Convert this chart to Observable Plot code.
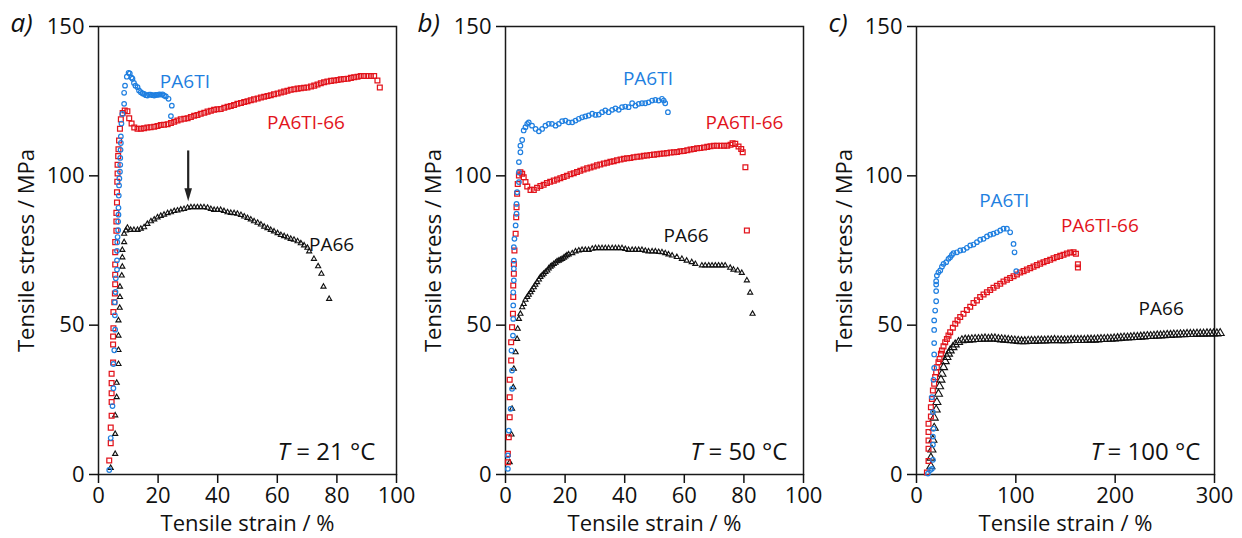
<!DOCTYPE html>
<html><head><meta charset="utf-8">
<script src="https://cdn.jsdelivr.net/npm/d3@7"></script>
<script src="https://cdn.jsdelivr.net/npm/@observablehq/plot@0.6"></script>
<style>
body{margin:0;background:#fff;}
#wrap{position:relative;width:1242px;height:538px;overflow:hidden;background:#fff;}
#wrap svg{position:absolute;top:0;}
</style></head><body><div id="wrap"></div>
<script>
// ---- data: [strain %, stress MPa] ----
const aPA6TI = [[3.6,1.5],[4.1,12.2],[4.7,22.9],[5.0,28.9],[5.0,37],[5.3,41.6],[5.6,48.5],[5.5,53.3],[5.5,57.7],[5.7,61.1],[5.8,65.7],[6.2,68.6],[6.2,71.7],[6.2,74.9],[6.3,77.8],[6.4,79.5],[6.6,81.8],[6.6,84.7],[6.7,87],[6.7,89.3],[6.8,93.4],[6.9,96.8],[7.0,99.1],[7.2,101.4],[7.3,103.7],[7.3,106],[7.4,108.7],[7.5,111],[7.5,113.2],[7.7,117.5],[8.0,120.7],[8.6,124.1],[8.6,127.8],[8.9,130.2],[9.5,133.2],[10.1,134.5],[10.5,134.3],[11.1,132.9],[11.4,132.5],[11.9,131.1],[12.4,130.2],[13.1,129.7],[13.6,128.6],[14.2,128],[14.8,127.6],[15.3,127.4],[15.9,127.0],[16.4,126.9],[17.0,127.2],[17.5,127.2],[18.1,127.0],[18.7,126.9],[19.2,127.1],[19.8,127.1],[20.4,127.3],[20.9,127.2],[21.5,127.3],[22.0,126.9],[22.6,126.6],[23.5,125.8],[24.6,123.5],[24.3,120]];
const aPA6TI66 = [[3.6,4.7],[4.1,10.5],[4.1,15.7],[4.4,19.7],[4.4,24.3],[4.4,27.2],[4.4,30.6],[4.4,33.7],[4.9,37.5],[4.9,43.5],[4.9,46.2],[5.0,49],[5.0,54.4],[5.3,57.7],[5.5,60.6],[5.6,63.7],[5.6,66.9],[5.6,70.3],[5.6,74.4],[5.6,77.8],[6.0,81.6],[6.0,84.7],[6.0,87.6],[6.2,91.1],[6.2,94.5],[6.3,98],[6.4,100.8],[6.4,103.7],[6.6,106.6],[6.7,108.9],[6.9,111.8],[7.2,115.8],[7.5,118.9],[8.1,121],[8.8,121.9],[9.7,121.6],[10.3,119.3],[11.1,117.5],[12.0,116.2],[13.1,115.8],[14.2,115.8],[15.3,115.9],[16.4,116.2],[17.5,116.3],[18.7,116.4],[19.8,116.7],[20.9,117],[22.0,117.1],[23.2,117.3],[24.3,117.7],[25.4,118.1],[26.5,118.5],[27.6,118.9],[28.8,119.1],[29.9,119.3],[31.0,119.7],[32.1,120.1],[33.2,120.4],[34.3,120.8],[35.5,121.1],[36.6,121.5],[37.7,121.8],[38.8,122.1],[39.9,122.3],[41.0,122.4],[42.2,122.8],[43.3,123.1],[44.4,123.4],[45.5,123.7],[46.6,124.1],[47.8,124.4],[48.9,124.7],[50.0,125],[51.1,125.3],[52.2,125.6],[53.4,125.9],[54.5,126.2],[55.6,126.5],[56.7,126.7],[57.8,127],[58.9,127.3],[60.1,127.6],[61.2,127.9],[62.3,128.2],[63.4,128.5],[64.5,128.8],[65.7,129],[66.8,129.2],[67.9,129.3],[69.0,129.5],[70.1,129.6],[71.3,129.9],[72.4,130.2],[73.5,130.6],[74.6,131],[75.7,131.3],[76.8,131.6],[78.0,131.8],[79.1,131.9],[80.2,132.1],[81.3,132.3],[82.4,132.4],[83.6,132.5],[84.7,132.8],[85.8,133],[86.9,133.2],[88.0,133.4],[89.1,133.4],[90.3,133.4],[91.4,133.4],[92.5,133.4],[93.6,131.9],[94.4,129.6]];
const aPA66 = [[4.1,2.2],[5.6,6.9],[5.6,13.6],[5.6,19.8],[6.1,25.9],[6.1,30.7],[6.7,37],[6.7,41.7],[6.7,46.5],[6.7,51.6],[7.1,55.8],[7.2,59.4],[7.2,62.9],[7.8,66.6],[8.0,69.6],[8.0,72.7],[8.0,75.2],[8.6,77.8],[8.6,80.6],[9.2,81.7],[9.7,82.6],[10.8,81.9],[11.9,81.9],[13.1,81.9],[14.2,82.3],[15.3,82.8],[16.4,83.9],[17.6,84.8],[18.7,85.4],[19.8,86.1],[20.9,86.6],[22.0,87],[23.2,87.5],[24.3,87.8],[25.4,88.2],[26.5,88.4],[27.6,88.7],[28.7,88.9],[29.9,89.3],[31,89.5],[32.1,89.5],[33.2,89.5],[34.3,89.5],[35.4,89.5],[36.6,89.3],[37.7,88.9],[38.8,88.6],[39.9,88.6],[41,88.6],[42.1,88.2],[43.3,87.8],[44.4,87.6],[45.5,87.5],[46.6,87.3],[47.8,86.9],[48.9,86.4],[50,85.9],[51.1,85.4],[52.2,84.8],[53.4,84.3],[54.5,83.7],[55.6,83],[56.7,82.5],[57.8,81.9],[58.9,81.4],[60.1,80.8],[61.2,80.2],[62.3,79.8],[63.4,79.4],[64.5,78.9],[65.6,78.6],[66.8,78.1],[67.9,77.4],[69,76.7],[70.1,75.9],[70.7,74.7],[72.3,72.2],[73.7,69.7],[74.8,67.2],[75.5,62.9],[77.4,58.8]];

const bPA6TI = [[0.8,1.9],[0.8,6.4],[1.1,14.7],[1.7,22],[2.2,28.7],[2.2,34.8],[2.0,41.5],[2.5,46.5],[2.6,52.1],[2.6,56.6],[2.6,61],[2.8,65],[2.8,68.9],[2.8,71.6],[2.8,76.1],[3.0,78.9],[3.4,83.4],[3.7,87.3],[3.7,90.6],[3.9,94.5],[4.5,97.9],[4.5,101.2],[4.5,104.6],[5.0,107.9],[5.0,110.1],[5.6,112],[6.1,115.2],[6.7,116.3],[7.3,117.4],[7.8,117.9],[8.9,116.8],[10.1,115.7],[11.2,114.9],[12.3,115.7],[13.4,116.8],[14.5,117.4],[15.6,117.4],[16.8,116.8],[17.9,117.4],[19,118.3],[20.1,118.5],[21.2,117.9],[22.4,117.9],[23.5,118.5],[24.6,119.1],[25.7,119.6],[26.8,119.9],[27.9,120.2],[29.1,120.8],[30.2,120.4],[31.3,120.5],[32.4,121.3],[33.5,121.9],[34.6,121.3],[35.8,122.1],[36.9,122.6],[38,122.1],[39.1,123],[40.2,123.2],[41.3,123],[42.5,124.3],[43.6,123.5],[44.7,124.1],[45.8,124.3],[46.9,124.3],[48,124.6],[49.2,125.2],[50.3,125.4],[51.4,125.2],[52.5,125.8],[53.1,125.2],[53.6,124.3],[54.5,121.3]];
const bPA6TI66 = [[0.8,4.1],[0.8,6.9],[1.1,12.5],[1.4,19.2],[1.4,25.9],[1.4,31.7],[1.9,38.2],[1.9,44.3],[2.2,49.3],[2.5,53.8],[2.6,59.4],[2.6,63.3],[2.8,67.2],[2.8,70.5],[3.0,75],[3.4,80.6],[3.6,86.1],[3.7,89.5],[3.9,94],[4.1,97.3],[4.5,100.1],[5.0,101.2],[5.6,100.7],[6.1,99.5],[6.7,97.9],[7.3,96.4],[8.4,95.3],[9.5,95.3],[10.6,96],[11.7,96.6],[12.8,97],[13.9,97.6],[15.0,98],[16.2,98.4],[17.3,98.8],[18.4,99.2],[19.5,99.6],[20.6,100],[21.8,100.5],[22.9,100.9],[24,101.3],[25.1,101.7],[26.2,102.1],[27.4,102.5],[28.5,102.8],[29.6,103.1],[30.7,103.5],[31.8,103.8],[33,104.1],[34.1,104.4],[35.2,104.7],[36.3,104.9],[37.4,105.2],[38.6,105.5],[39.7,105.7],[40.8,105.9],[41.9,106],[43,106.2],[44.2,106.4],[45.3,106.5],[46.4,106.7],[47.5,106.8],[48.6,107],[49.8,107.1],[50.9,107.2],[52,107.4],[53.1,107.5],[54.2,107.6],[55.4,107.8],[56.5,107.9],[57.6,108],[58.7,108.2],[59.8,108.3],[61,108.6],[62.1,108.8],[63.2,109],[64.3,109.2],[65.4,109.3],[66.6,109.5],[67.7,109.7],[68.8,109.9],[69.9,110.1],[71,110.1],[72.2,110.1],[73.3,110.1],[74.4,110.1],[75.5,110.4],[76.2,110.9],[77.1,110.7],[78.2,109.8],[79.1,109],[79.6,107.9],[80.5,102.9],[81,81.7]];
const bPA66 = [[1.4,4.1],[2.0,13.4],[2.2,22],[2.6,29.2],[2.8,35.4],[3.4,40.9],[3.9,45.4],[4.1,48.8],[4.5,52.1],[5.0,53.8],[5.6,56],[6.1,57.1],[6.7,58.5],[7.3,59.4],[7.8,60.2],[8.4,61],[8.9,61.8],[9.5,62.7],[10.0,63.5],[10.6,64.4],[11.2,65.3],[11.7,66.1],[12.3,66.7],[12.8,67.2],[13.4,67.8],[14,68.3],[14.5,69],[15.1,69.6],[15.6,70],[16.2,70.5],[16.8,70.9],[17.3,71.4],[17.9,71.6],[18.4,71.9],[19,72.2],[19.6,72.6],[20.1,73],[20.6,73.4],[21.2,73.7],[22.4,74.1],[23.5,74.7],[24.6,75],[25.7,75.2],[26.8,75.2],[27.9,75.2],[29.1,75.6],[30.2,75.8],[31.3,75.8],[32.4,75.8],[33.5,75.8],[34.6,75.8],[35.8,75.8],[36.9,75.8],[38,75.8],[39.1,75.8],[40.2,75.5],[41.3,75.2],[42.5,75.2],[43.6,75.2],[44.7,75.2],[45.8,75.2],[46.9,74.9],[48,74.7],[49.2,74.7],[50.3,74.7],[51.4,74.5],[52.5,74.4],[53.6,74.1],[54.7,73.7],[55.9,73.3],[57.5,72.8],[59.2,72.2],[60.8,71.6],[62.5,71.1],[63.7,70.5],[65.9,70],[67,70],[68.2,70],[69.3,70],[70.4,70],[71.5,70],[72.6,70],[73.7,70],[75.4,69.2],[76.5,68.6],[77.9,68.3],[79.3,67.5],[81,65],[82.1,60.9],[82.9,53.8]];

const cPA6TI = [[11.5,0.3],[13.8,1.5],[15.5,1.9],[16.5,4.9],[16.5,10],[16.5,12.7],[17.1,15.3],[16.5,20.9],[15.5,25.9],[17.1,31.7],[17.8,35.7],[17.8,40.2],[17.8,44],[17.8,48.4],[17.8,51.6],[18.8,54.9],[19.8,58],[19.8,61.4],[19.8,63.6],[19.8,64.7],[20.5,66.6],[22.1,67.7],[23.9,68.3],[25.6,69.6],[27.2,70.5],[29.9,71.1],[32.2,72.2],[33.9,72.7],[35.6,73.5],[37.2,74.1],[40.7,74.4],[44,75],[47.3,75.2],[50.7,75.9],[54.1,76.7],[57.4,77],[60.8,77.8],[64.1,78.6],[67.5,78.9],[70.9,79.7],[74.2,80.3],[77.5,80.6],[80.9,81.1],[84.3,81.7],[87.6,82.3],[91,82.3],[94.3,81.1],[97.7,77.2],[98.7,74.4],[100.4,68.1]];
const cPA6TI66 = [[10.5,0.7],[12.1,4.5],[12.1,8.6],[12.1,11.4],[12.1,14.2],[12.1,17],[14.5,19.4],[14.5,22.5],[15.5,25.3],[16.5,28.1],[17.8,30.4],[18.8,32.6],[19.8,34.2],[20.5,35.9],[22.1,37.6],[23.2,38.7],[24.6,40.4],[25.6,41.5],[27.2,42.9],[28.9,44.3],[30.6,45.4],[32.2,46.5],[33.9,47.6],[36.6,49.1],[39,50.5],[41.3,51.6],[44,52.7],[47.3,53.8],[50.7,55.1],[54.1,56.2],[57.4,57.4],[60.8,58.3],[64.1,59.4],[67.5,60.3],[70.9,61],[74.2,61.8],[77.5,62.5],[80.9,63.2],[84.3,63.9],[87.6,64.6],[91,65.2],[94.3,65.8],[97.7,66.4],[101.1,67],[104.4,67.6],[107.8,68.1],[111.1,68.6],[114.5,69.1],[117.8,69.6],[121.2,70.1],[124.5,70.6],[127.9,71.1],[131.2,71.5],[134.6,71.9],[138,72.4],[141.3,72.8],[144.7,73.2],[148,73.6],[151.4,74],[154.7,74.3],[158.1,74.4],[160.5,73.9],[162.5,70.4],[162.5,69.3]];
const cPA66 = [[14.5,2.7],[14.5,5.6],[15.5,8.3],[16.5,11.6],[17.8,15.6],[17.8,19],[19.8,21.7],[20.5,24.2],[22.1,27],[23.2,29.5],[24.6,31.7],[25.6,33.7],[27.2,35.9],[28.9,37.9],[30.6,39.3],[32.2,40.4],[33.9,41.5],[36.6,42.6],[39,43.5],[42.3,44.3],[45.7,44.9],[49,45.1],[52.3,45.1],[55.7,45.2],[59,45.3],[62.4,45.3],[65.7,45.4],[69,45.5],[72.4,45.4],[75.7,45.5],[79,45.5],[82.4,45.3],[85.7,45.2],[89,45.1],[92.4,45],[95.7,44.9],[99,44.8],[102.4,44.7],[105.7,44.6],[109,44.6],[112.4,44.7],[115.7,44.7],[119,44.7],[122.4,44.8],[125.7,44.8],[129,44.8],[132.4,44.9],[135.7,44.9],[139,45],[142.4,44.9],[145.7,44.9],[149,44.9],[152.4,44.9],[155.7,45],[159,45],[162.4,45],[165.7,45],[169,45],[172.4,45.1],[175.7,45.1],[179,45.1],[182.4,45.2],[185.7,45.3],[189,45.3],[192.4,45.4],[195.7,45.4],[199,45.5],[202.4,45.6],[205.7,45.7],[209,45.8],[212.4,45.8],[215.7,45.9],[219,46],[222.4,46],[225.7,46.1],[229,46.2],[232.4,46.3],[235.7,46.3],[239,46.4],[242.4,46.5],[245.7,46.5],[249,46.6],[252.4,46.7],[255.7,46.7],[259,46.8],[262.4,46.8],[265.7,46.9],[269,46.9],[272.4,47],[275.7,47],[279,47],[282.4,47.1],[285.7,47.1],[289,47.1],[292.4,47.2],[295.7,47.2],[299,47.2],[302.4,47.2],[305.7,47.3]];

const yTicks = [0, 50, 100, 150];
const xTicksAB = [0, 20, 40, 60, 80, 100];
const xTicksC = [0, 100, 200, 300];
const seriesNames = ["PA6TI", "PA6TI-66", "PA66"];
const panelLetters = ["a)", "b)", "c)"];
const tempValues = ["21", "50", "100"];
const xTitle = "Tensile strain / %";
const yTitle = "Tensile stress / MPa";

// ---- styling ----
const BLUE = "#1f7fe0", RED = "#e2141c", BLACK = "#111";
const FONT = "'Open Sans', 'Noto Sans', sans-serif";
const arrowHead = {draw(ctx) { ctx.moveTo(0, 0); ctx.lineTo(-3.8, -13); ctx.lineTo(3.8, -13); ctx.closePath(); }};

const wrap = document.getElementById("wrap");

function panel(p) {
  const W = 414, ML = 98, MR = 18, MT = 26, MB = 64;
  const dotStyle = {
    circle: {symbol: "circle", r: 2.3, stroke: BLUE, strokeWidth: 1.2},
    square: {symbol: "square", r: 2.7, stroke: RED, strokeWidth: 1.25},
    triangle: {symbol: "triangle", r: p.triR, stroke: BLACK, strokeWidth: 1.1}
  };
  const marks = [
    Plot.frame({stroke: "#1a1a1a", strokeWidth: 1.5}),
    Plot.axisX({ticks: p.xTicks, tickSize: 9, tickPadding: 4, label: null, strokeWidth: 1.5, fontSize: 22, tickFormat: d => String(d)}),
    Plot.axisY({ticks: yTicks, tickSize: 9, tickPadding: 5, label: null, strokeWidth: 1.5, fontSize: 22}),
    Plot.dot(p.black, {x: d => d[0], y: d => d[1], fill: "none", ...dotStyle.triangle}),
    Plot.dot(p.red, {x: d => d[0], y: d => d[1], fill: "none", ...dotStyle.square}),
    Plot.dot(p.blue, {x: d => d[0], y: d => d[1], fill: "none", ...dotStyle.circle}),
    Plot.text(p.labels, {x: "x", y: "y", text: "t", fill: "c", fontSize: 19, textAnchor: "middle", lineAnchor: "middle"}),
    Plot.text(["T"], {x: () => p.tT, y: () => 4.9, frameAnchor: "middle", text: d => d, fontSize: 24, fontStyle: "italic", textAnchor: "start", lineAnchor: "bottom", fill: BLACK}),
    Plot.text([`= ${p.temp} °C`], {x: () => p.tEq, y: () => 4.9, text: d => d, fontSize: 24, textAnchor: "start", lineAnchor: "bottom", fill: BLACK}),
    Plot.text([yTitle], {frameAnchor: "left", dx: -65, rotate: -90, text: d => d, fontSize: 22, lineAnchor: "bottom", textAnchor: "middle", fill: BLACK}),
    Plot.text([xTitle], {frameAnchor: "bottom", dy: 56, text: d => d, fontSize: 22, lineAnchor: "bottom", textAnchor: "middle", fill: BLACK}),
    Plot.text([p.letter], {frameAnchor: "top-left", dx: p.letterDx, dy: 5, text: d => d, fontSize: 26, fontStyle: "italic", lineAnchor: "bottom", textAnchor: "start", fill: BLACK})
  ];
  if (p.arrow) {
    marks.push(Plot.link([p.arrow], {x1: "x", x2: "x", y1: "y1", y2: "y2", stroke: "#222", strokeWidth: 2.2}));
    marks.push(Plot.dot([p.arrow], {x: "x", y: "tip", symbol: arrowHead, fill: "#222", stroke: "none"}));
  }
  const svg = Plot.plot({
    width: W, height: 538,
    marginLeft: ML, marginRight: MR, marginTop: MT, marginBottom: MB,
    x: {domain: p.xDomain},
    y: {domain: [0, 150]},
    style: {fontFamily: FONT, fontSize: "22px", color: "#111", background: "transparent", overflow: "visible"},
    marks
  });
  svg.style.left = p.left + "px";
  wrap.appendChild(svg);
}

panel({
  left: 0, xDomain: [0, 100], xTicks: xTicksAB, letter: panelLetters[0], letterDx: -88, temp: tempValues[0],
  tT: 60.1, tEq: 66.4, triR: 1.9,
  blue: aPA6TI, red: aPA6TI66, black: aPA66,
  labels: [
    {x: 29, y: 131.6, t: seriesNames[0], c: BLUE},
    {x: 69.6, y: 117.7, t: seriesNames[1], c: RED},
    {x: 78.2, y: 76.8, t: seriesNames[2], c: BLACK}
  ],
  arrow: {x: 30.1, y1: 108.5, y2: 95, tip: 91.5}
});
panel({
  left: 407, xDomain: [0, 100], xTicks: xTicksAB, letter: panelLetters[1], letterDx: -88, temp: tempValues[1],
  tT: 62.0, tEq: 68.1, triR: 1.9,
  blue: bPA6TI, red: bPA6TI66, black: bPA66,
  labels: [
    {x: 47.8, y: 132.5, t: seriesNames[0], c: BLUE},
    {x: 80.2, y: 117.7, t: seriesNames[1], c: RED},
    {x: 60.6, y: 80.0, t: seriesNames[2], c: BLACK}
  ]
});
panel({
  left: 818, xDomain: [0, 300], xTicks: xTicksC, letter: panelLetters[2], letterDx: -88, temp: tempValues[2],
  tT: 175.2, tEq: 192.3, triR: 3,
  blue: cPA6TI, red: cPA6TI66, black: cPA66,
  labels: [
    {x: 88.3, y: 91.7, t: seriesNames[0], c: BLUE},
    {x: 184.6, y: 83.1, t: seriesNames[1], c: RED},
    {x: 246.3, y: 55.5, t: seriesNames[2], c: BLACK}
  ]
});
</script>
</body></html>
